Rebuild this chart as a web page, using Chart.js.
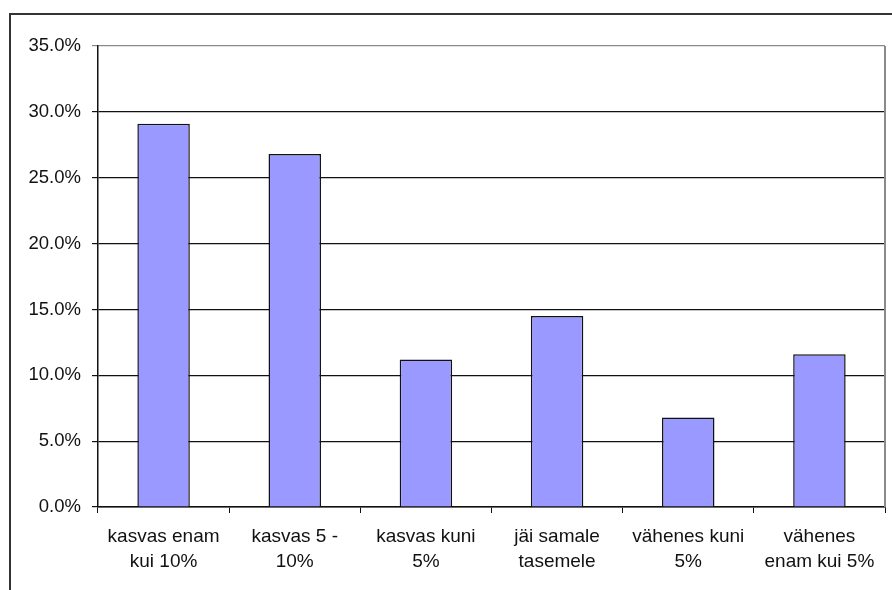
<!DOCTYPE html>
<html>
<head>
<meta charset="utf-8">
<script src="https://cdn.jsdelivr.net/npm/chart.js@4/dist/chart.umd.min.js"></script>
<style>
  html, body { margin: 0; padding: 0; background: #fff; }
  #wrap { position: relative; width: 892px; height: 590px; overflow: hidden; }
  #frame { position: absolute; left: 9px; top: 13px; width: 900px; height: 600px; border: 2px solid #333; box-sizing: border-box; }
  canvas { position: absolute; left: 0; top: 0; }
</style>
</head>
<body>
<div id="wrap">
  <div id="frame"></div>
  <canvas id="chart" width="892" height="590"></canvas>
</div>
<script>
const categories = [
  ['kasvas enam', 'kui 10%'],
  ['kasvas 5 -', '10%'],
  ['kasvas kuni', '5%'],
  ['jäi samale', 'tasemele'],
  ['vähenes kuni', '5%'],
  ['vähenes', 'enam kui 5%']
];
const shares = [29.1, 26.8, 11.2, 14.5, 6.8, 11.6];
const yTicks = [0, 5, 10, 15, 20, 25, 30, 35];

const yFont = { family: '"Liberation Sans", Arial, sans-serif', size: 18.5 };
const xFont = { family: '"Liberation Sans", Arial, sans-serif', size: 19, lineHeight: 1.32 };

// gray right edge of the plot area
const plotBorder = {
  id: 'plotBorder',
  afterDraw(chart) {
    const { ctx, chartArea: a } = chart;
    ctx.save();
    ctx.strokeStyle = '#8a8a8a';
    ctx.lineWidth = 2;
    ctx.beginPath();
    ctx.moveTo(a.right, a.top);
    ctx.lineTo(a.right, a.bottom);
    ctx.stroke();
    ctx.restore();
  }
};

new Chart(document.getElementById('chart'), {
  type: 'bar',
  data: {
    labels: categories,
    datasets: [{
      data: shares,
      backgroundColor: '#9999ff',
      borderColor: '#111',
      borderWidth: 1.5,
      barPercentage: 0.4,
      categoryPercentage: 1
    }]
  },
  options: {
    responsive: false,
    animation: false,
    layout: { padding: { left: 0, top: 46, right: 7, bottom: 0 } },
    plugins: { legend: { display: false }, tooltip: { enabled: false } },
    scales: {
      x: {
        afterFit(s) { s.height = 83; },
        grid: { drawOnChartArea: false, drawTicks: true, tickLength: 6, color: '#111', offset: true },
        border: { color: '#111', width: 1.5 },
        ticks: { color: '#111', font: xFont, padding: 11, maxRotation: 0, autoSkip: false }
      },
      y: {
        min: 0,
        max: 35,
        afterFit(s) { s.width = 98; },
        afterBuildTicks(s) { s.ticks = yTicks.map(v => ({ value: v })); },
        grid: {
          color: ctx => ctx.tick && ctx.tick.value === 35 ? '#8a8a8a' : '#111',
          lineWidth: 1.2,
          tickLength: 6
        },
        border: { color: '#111', width: 1.5 },
        ticks: {
          color: '#111',
          font: yFont,
          padding: 11,
          callback: v => v.toFixed(1) + '%'
        }
      }
    }
  },
  plugins: [plotBorder]
});
</script>
</body>
</html>
